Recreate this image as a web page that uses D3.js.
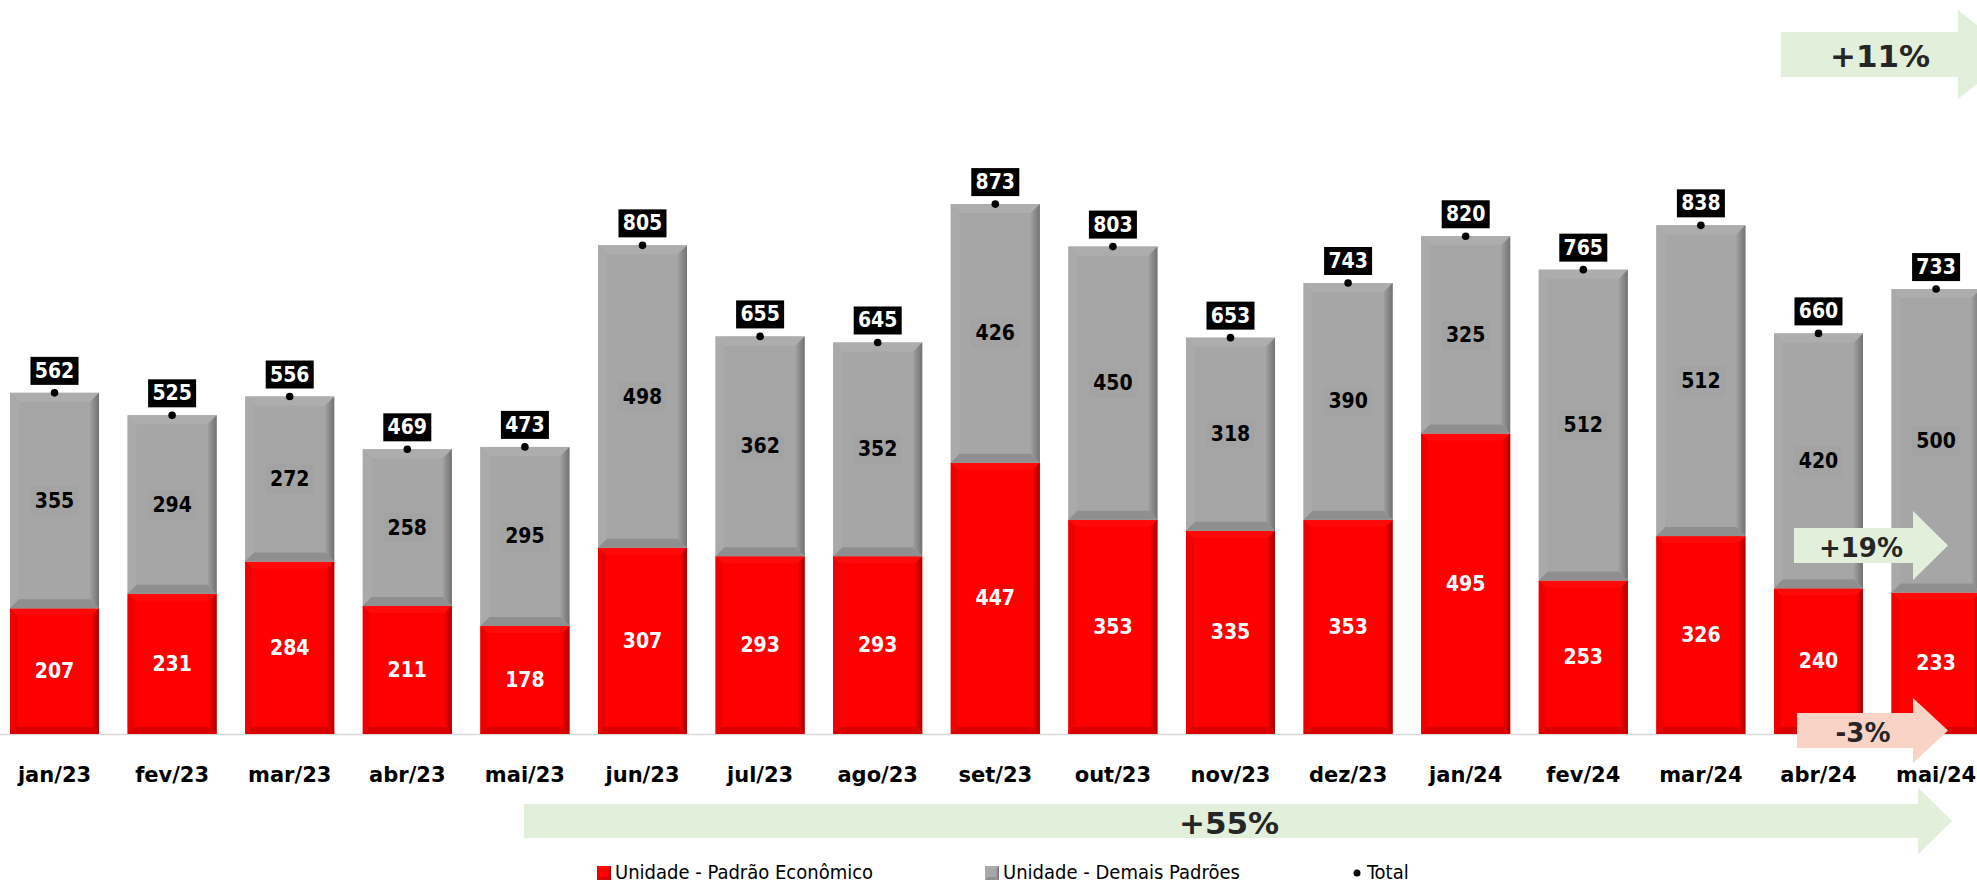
<!DOCTYPE html>
<html>
<head>
<meta charset="utf-8">
<script src="https://cdn.jsdelivr.net/npm/d3@7"></script>
<style>
  body { margin: 0; background: #fff; }
  svg { display: block; }
</style>
</head>
<body>
<svg width="1977" height="885"></svg>
<script>
const months = ['jan/23', 'fev/23', 'mar/23', 'abr/23', 'mai/23', 'jun/23', 'jul/23', 'ago/23',
  'set/23', 'out/23', 'nov/23', 'dez/23', 'jan/24', 'fev/24', 'mar/24', 'abr/24', 'mai/24'];
const economico = [207, 231, 284, 211, 178, 307, 293, 293, 447, 353, 335, 353, 495, 253, 326, 240, 233];
const demais = [355, 294, 272, 258, 295, 498, 362, 352, 426, 450, 318, 390, 325, 512, 512, 420, 500];
const totals = [562, 525, 556, 469, 473, 805, 655, 645, 873, 803, 653, 743, 820, 765, 838, 660, 733];
const seriesNames = ['Unidade - Padrão Econômico', 'Unidade - Demais Padrões', 'Total'];

const condensed = "'DejaVu Sans Condensed', 'DejaVu Sans', sans-serif";
const wide = "'DejaVu Sans', sans-serif";

const svg = d3.select('svg');

const x = d3.scaleBand()
  .domain(months)
  .range([10, 1980.6])
  .paddingInner(0.243)
  .paddingOuter(0);
const y = d3.scaleLinear()
  .domain([0, 1000])
  .range([734, 127]);

// gradients for the bevel edges
const defs = svg.append('defs');
function edgeGradient(id, from, to) {
  const g = defs.append('linearGradient').attr('id', id)
    .attr('x1', 0).attr('x2', 1).attr('y1', 0).attr('y2', 0);
  g.append('stop').attr('offset', 0).attr('stop-color', from);
  g.append('stop').attr('offset', 1).attr('stop-color', to);
}
edgeGradient('redRight', '#f50000', '#a80000');
edgeGradient('grayRight', '#a0a0a0', '#727272');

const looks = {
  red: { main: '#ff0000', top: '#ff0a0a', left: '#ee0000', right: 'url(#redRight)', bottom: '#d80000' },
  gray: { main: '#a6a6a6', top: '#adadad', left: '#aaaaaa', right: 'url(#grayRight)', bottom: '#8f8f8f' }
};

function bevelRect(g, x0, y0, w, h, look, b) {
  b = Math.min(b, h / 2, w / 2);
  const x1 = x0 + w, y1 = y0 + h;
  g.append('rect').attr('x', x0).attr('y', y0).attr('width', w).attr('height', h).attr('fill', look.main);
  const poly = (pts, fill) => g.append('polygon').attr('points', pts.map(p => p.join(',')).join(' ')).attr('fill', fill);
  poly([[x0, y0], [x1, y0], [x1 - b, y0 + b], [x0 + b, y0 + b]], look.top);
  poly([[x0, y0], [x0 + b, y0 + b], [x0 + b, y1 - b], [x0, y1]], look.left);
  poly([[x0, y1], [x0 + b, y1 - b], [x1 - b, y1 - b], [x1, y1]], look.bottom);
  poly([[x1, y0], [x1, y1], [x1 - b, y1 - b], [x1 - b, y0 + b]], look.right);
}

// baseline
svg.append('line')
  .attr('x1', 0).attr('x2', 1977)
  .attr('y1', y(0) + 0.5).attr('y2', y(0) + 0.5)
  .attr('stroke', '#d9d9d9').attr('stroke-width', 1.5);

const barG = svg.append('g').attr('class', 'bars');
months.forEach((m, i) => {
  const g = barG.append('g');
  const bx = x(m), bw = x.bandwidth();
  bevelRect(g, bx, y(economico[i]), bw, y(0) - y(economico[i]), looks.red, 7);
  bevelRect(g, bx, y(totals[i]), bw, y(economico[i]) - y(totals[i]), looks.gray, 9);
});

// segment labels
const labelG = svg.append('g').attr('class', 'labels');
months.forEach((m, i) => {
  const cx = x(m) + x.bandwidth() / 2;
  const yRed = (y(0) + y(economico[i])) / 2;
  labelG.append('text')
    .attr('x', cx).attr('y', yRed)
    .attr('text-anchor', 'middle').attr('dominant-baseline', 'central')
    .attr('font-family', condensed).attr('font-weight', 'bold').attr('font-size', 21)
    .attr('fill', '#fff')
    .text(economico[i]);

  const yGray = (y(economico[i]) + y(totals[i])) / 2;
  labelG.append('rect')
    .attr('x', cx - 24).attr('y', yGray - 14.5).attr('width', 48).attr('height', 29)
    .attr('fill', '#a3a3a3');
  labelG.append('text')
    .attr('x', cx).attr('y', yGray)
    .attr('text-anchor', 'middle').attr('dominant-baseline', 'central')
    .attr('font-family', condensed).attr('font-weight', 'bold').attr('font-size', 21)
    .attr('fill', '#000')
    .text(demais[i]);

  const yt = y(totals[i]);
  labelG.append('circle').attr('cx', cx).attr('cy', yt).attr('r', 3.8).attr('fill', '#000');
  labelG.append('rect')
    .attr('x', cx - 24).attr('y', yt - 36).attr('width', 48).attr('height', 28)
    .attr('fill', '#000');
  labelG.append('text')
    .attr('x', cx).attr('y', yt - 22)
    .attr('text-anchor', 'middle').attr('dominant-baseline', 'central')
    .attr('font-family', condensed).attr('font-weight', 'bold').attr('font-size', 21)
    .attr('fill', '#fff')
    .text(totals[i]);
});

// category axis
const xAxis = svg.append('g')
  .attr('transform', 'translate(0,767)')
  .call(d3.axisBottom(x).tickSize(0).tickPadding(0));
xAxis.select('.domain').remove();
xAxis.selectAll('text')
  .attr('font-family', wide).attr('font-weight', 'bold').attr('font-size', 21)
  .attr('fill', '#000');

// growth arrows
const pct = v => (v >= 0 ? '+' : '-') + Math.round(Math.abs(v) * 100) + '%';
function arrow(x0, x1, yc, bodyH, headH, headW, fill) {
  const xh = x1 - headW;
  const p = d3.path();
  p.moveTo(x0, yc - bodyH / 2);
  p.lineTo(xh, yc - bodyH / 2);
  p.lineTo(xh, yc - headH / 2);
  p.lineTo(x1, yc);
  p.lineTo(xh, yc + headH / 2);
  p.lineTo(xh, yc + bodyH / 2);
  p.lineTo(x0, yc + bodyH / 2);
  p.closePath();
  svg.append('path').attr('d', p.toString()).attr('fill', fill);
}
function arrowText(tx, ty, size, txt) {
  svg.append('text')
    .attr('x', tx).attr('y', ty)
    .attr('text-anchor', 'middle').attr('dominant-baseline', 'central')
    .attr('font-family', wide).attr('font-weight', 'bold').attr('font-size', size)
    .attr('fill', '#262626')
    .text(txt);
}
const last = months.length - 1;
const green = '#e2efda', pink = '#f9d3c5';

arrow(1781, 2014, 54.5, 45, 89, 56, green);
arrowText(1880, 56, 31, pct(totals[last] / totals[last - 1] - 1));

arrow(1794, 1948, 545.5, 35, 69, 35, green);
arrowText(1861, 548, 26, pct(demais[last] / demais[last - 1] - 1));

arrow(1797, 1948, 730.5, 35, 65, 35, pink);
arrowText(1863, 733, 26, pct(economico[last] / economico[last - 1] - 1));

arrow(x('mai/23') + x.bandwidth() / 2 - 1, 1952, 821, 34, 67, 34, green);
arrowText(1229, 823, 31, pct(totals[last] / totals[last - 12] - 1));

// legend
const legendItems = [
  { name: seriesNames[0], kind: 'square', look: looks.red, mx: 597, tx: 615 },
  { name: seriesNames[1], kind: 'square', look: looks.gray, mx: 985, tx: 1003 },
  { name: seriesNames[2], kind: 'dot', mx: 1357, tx: 1367 }
];
const legend = svg.append('g').attr('class', 'legend');
legendItems.forEach(d => {
  if (d.kind === 'square') {
    bevelRect(legend, d.mx, 866, 14, 14, d.look, 3);
  } else {
    legend.append('circle').attr('cx', d.mx).attr('cy', 873).attr('r', 3.5).attr('fill', '#000');
  }
  legend.append('text')
    .attr('x', d.tx).attr('y', 879)
    .attr('font-family', condensed).attr('font-size', 20)
    .attr('fill', '#000')
    .text(d.name);
});
</script>
</body>
</html>
